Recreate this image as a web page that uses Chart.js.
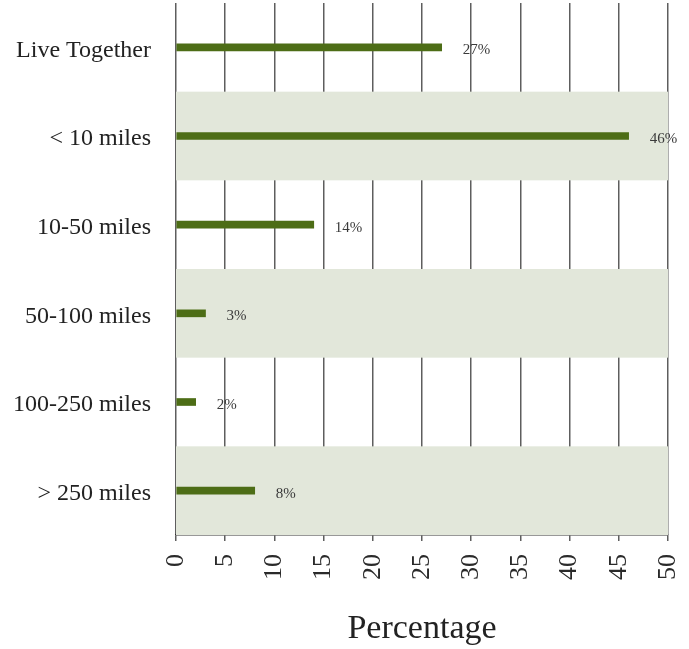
<!DOCTYPE html>
<html>
<head>
<meta charset="utf-8">
<script src="https://cdn.jsdelivr.net/npm/chart.js@4/dist/chart.umd.min.js"></script>
<style>
  html, body { margin: 0; padding: 0; background: #ffffff; }
  #wrap { width: 689px; height: 649px; }
</style>
</head>
<body>
<div id="wrap"><canvas id="chart" width="689" height="649"></canvas></div>
<script>
// Distance between households
const categories = ['Live Together', '< 10 miles', '10-50 miles', '50-100 miles', '100-250 miles', '> 250 miles'];
const percentages = [27, 46, 14, 3, 2, 8];
const xTicks = [0, 5, 10, 15, 20, 25, 30, 35, 40, 45, 50];

const SERIF = '"Liberation Serif", "Times New Roman", serif';
const BAR_COLOR = '#4d6d16';
const BAND_COLOR = '#e2e7da';

// Shade every second category row across the plot
const rowBands = {
  id: 'rowBands',
  beforeDatasetsDraw(chart) {
    const { ctx, chartArea, scales } = chart;
    const y = scales.y;
    const step = (y.getPixelForValue(1) - y.getPixelForValue(0));
    ctx.save();
    ctx.fillStyle = BAND_COLOR;
    categories.forEach((c, i) => {
      if (i % 2 === 1) {
        const cy = y.getPixelForValue(i);
        ctx.fillRect(chartArea.left, cy - step / 2, chartArea.right - chartArea.left, step);
      }
    });
    ctx.restore();
  }
};

// Percentage label to the right of each bar
const valueLabels = {
  id: 'valueLabels',
  afterDatasetsDraw(chart) {
    const { ctx } = chart;
    const meta = chart.getDatasetMeta(0);
    ctx.save();
    ctx.font = '15px ' + SERIF;
    ctx.fillStyle = '#3a3a3a';
    ctx.textAlign = 'left';
    ctx.textBaseline = 'middle';
    meta.data.forEach((bar, i) => {
      ctx.fillText(percentages[i] + '%', bar.x + 21, bar.y + 3);
    });
    ctx.restore();
  }
};

new Chart(document.getElementById('chart'), {
  type: 'bar',
  data: {
    labels: categories,
    datasets: [{
      data: percentages,
      backgroundColor: BAR_COLOR,
      borderWidth: 0,
      barThickness: 7
    }]
  },
  options: {
    indexAxis: 'y',
    responsive: false,
    animation: false,
    events: [],
    layout: { padding: { top: 3, right: 21, bottom: 0, left: 0 } },
    plugins: {
      legend: { display: false },
      tooltip: { enabled: false }
    },
    scales: {
      x: {
        type: 'linear',
        min: 0,
        max: 50,
        z: 1,
        afterBuildTicks(scale) {
          scale.ticks = xTicks.map(v => ({ value: v }));
        },
        afterFit(scale) {
          scale.height = 114;
          scale.paddingLeft = 0;
          scale.paddingRight = 0;
        },
        grid: {
          color: 'rgba(40,40,40,0.75)',
          lineWidth: 1.5,
          tickLength: 6,
          drawTicks: true
        },
        border: { display: true, color: '#333333', width: 1.5 },
        ticks: {
          autoSkip: false,
          minRotation: 90,
          maxRotation: 90,
          padding: 13,
          color: '#2a2a2a',
          font: { family: SERIF, size: 26 }
        },
        title: {
          display: true,
          text: 'Percentage',
          color: '#222222',
          font: { family: SERIF, size: 34 },
          padding: { top: 0, bottom: 0 }
        }
      },
      y: {
        afterFit(scale) {
          scale.width = 176;
          scale.paddingTop = 0;
          scale.paddingBottom = 0;
        },
        grid: { display: false, drawTicks: false },
        border: { display: false },
        ticks: {
          padding: 25,
          labelOffset: 3,
          color: '#222222',
          font: { family: SERIF, size: 24 }
        }
      }
    }
  },
  plugins: [rowBands, valueLabels]
});
</script>
</body>
</html>
